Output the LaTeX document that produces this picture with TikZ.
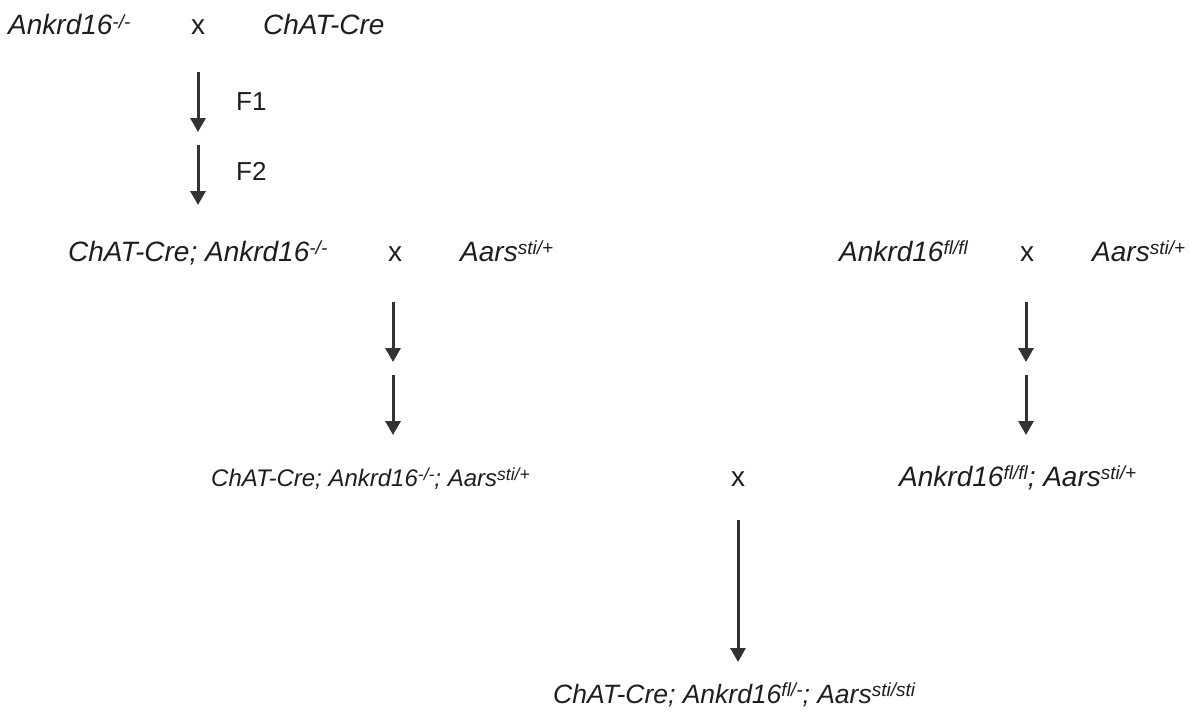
\documentclass[tikz,border=0pt]{standalone}
\usepackage{fontspec}
\setmainfont{Liberation Sans}
\usetikzlibrary{arrows.meta}
\definecolor{ink}{HTML}{1E1E1E}
\definecolor{arrowc}{HTML}{333333}
\newcommand\spr[1]{\raisebox{6.5pt}{\fontsize{19}{19}\selectfont #1}}
\newcommand\sprs[1]{\raisebox{6pt}{\fontsize{17.5}{17.5}\selectfont #1}}
\tikzset{
  lbl/.style={anchor=base west, inner sep=0pt, text=ink, font=\fontsize{28}{30}\selectfont\itshape},
  slbl/.style={anchor=base west, inner sep=0pt, text=ink, font=\fontsize{24}{30}\selectfont\itshape},
  blbl/.style={anchor=base west, inner sep=0pt, text=ink, font=\fontsize{26.5}{30}\selectfont\itshape},
  cross/.style={anchor=base, inner sep=0pt, text=ink, font=\fontsize{28}{30}\selectfont},
  gen/.style={anchor=base west, inner sep=0pt, text=ink, font=\fontsize{26}{30}\selectfont},
  arr/.style={draw=arrowc, line width=3pt, -{Triangle[width=15pt,length=14pt]}}
}
\begin{document}
\begin{tikzpicture}[x=1pt,y=-1pt]
\useasboundingbox[fill=white] (0,0) rectangle (1193,717);
% row 1
\node[lbl] (p1) at (8,35) {Ankrd16\spr{-/-}};
\node[cross] (x1) at (198,35) {x};
\node[lbl] (p2) at (263,35) {ChAT-Cre};
\coordinate (a1s) at (198,72);
\coordinate (a1e) at (198,132);
\coordinate (a2s) at (198,145);
\coordinate (a2e) at (198,205);
\draw[arr] (a1s) -- (a1e);
\draw[arr] (a2s) -- (a2e);
\node[gen] (f1) at (236,110) {F1};
\node[gen] (f2) at (236,180) {F2};
% row 2 left
\node[lbl] (p3) at (68,261) {ChAT-Cre; Ankrd16\spr{-/-}};
\node[cross] (x2) at (395,261) {x};
\node[lbl] (p4) at (460,261) {Aars\spr{sti/+}};
\coordinate (b1s) at (393,302);
\coordinate (b1e) at (393,362);
\coordinate (b2s) at (393,375);
\coordinate (b2e) at (393,435);
\draw[arr] (b1s) -- (b1e);
\draw[arr] (b2s) -- (b2e);
% row 2 right
\node[lbl] (p5) at (839,261) {Ankrd16\spr{fl/fl}};
\node[cross] (x3) at (1027,261) {x};
\node[lbl] (p6) at (1092,261) {Aars\spr{sti/+}};
\coordinate (c1s) at (1026,302);
\coordinate (c1e) at (1026,362);
\coordinate (c2s) at (1026,375);
\coordinate (c2e) at (1026,435);
\draw[arr] (c1s) -- (c1e);
\draw[arr] (c2s) -- (c2e);
% row 3
\node[slbl] (p7) at (211,486) {ChAT-Cre; Ankrd16\sprs{-/-}; Aars\sprs{sti/+}};
\node[cross] (x4) at (738,486) {x};
\node[lbl] (p8) at (899,486) {Ankrd16\spr{fl/fl}; Aars\spr{sti/+}};
\coordinate (ds) at (738,520);
\coordinate (de) at (738,662);
\draw[arr] (ds) -- (de);
% bottom
\node[blbl] (p9) at (553,703) {ChAT-Cre; Ankrd16\spr{fl/-}; Aars\spr{sti/sti}};
\end{tikzpicture}
\end{document}
